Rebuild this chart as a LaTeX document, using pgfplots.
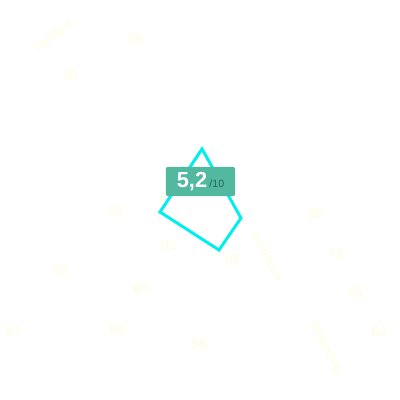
\documentclass[border=0pt]{standalone}
\usepackage{fontspec}
\setmainfont{Liberation Sans}
\usepackage{pgfplots}
\pgfplotsset{compat=1.18}
\definecolor{faint}{RGB}{255,253,222}
\definecolor{lineCyan}{RGB}{0,238,238}
\definecolor{badge}{RGB}{82,184,160}
\definecolor{badgeText}{RGB}{40,100,88}

\begin{document}
\begin{tikzpicture}
  \begin{axis}[
      width=10cm, height=10cm,
      scale only axis,
      hide axis,
      xmin=0, xmax=400,
      ymin=0, ymax=400,
      y dir=reverse,
      clip=false,
    ]
    \path (rel axis cs:0,0) rectangle (rel axis cs:1,1);

    % faint background labels
    \begin{scope}[every node/.style={text=faint, font=\fontsize{10}{12}\selectfont}]
      \node[rotate=35, font=\fontsize{8}{9}\selectfont] at (axis cs:52,36) {Voordeel};
      \node at (axis cs:135,40) {20};
      \node at (axis cs:70,75) {20};
      \node at (axis cs:116,212) {92};
      \node at (axis cs:169,245) {91};
      \node at (axis cs:60,271) {88};
      \node at (axis cs:140,289) {90};
      \node at (axis cs:13,332) {87};
      \node at (axis cs:117,330) {89};
      \node at (axis cs:199,345) {58};
      \node at (axis cs:233,260) {81};
      \node at (axis cs:316,214) {80};
      \node at (axis cs:336,254) {79};
      \node at (axis cs:356,292) {61};
      \node at (axis cs:379,332) {62};
      \node[rotate=55, font=\fontsize{8}{9}\selectfont] at (axis cs:172,186) {Kwaliteit};
      \node[rotate=-62, font=\fontsize{8}{9}\selectfont] at (axis cs:268,257) {Kosten/uur};
      \node[rotate=-62, font=\fontsize{8}{9}\selectfont] at (axis cs:326,348) {Kosten/dag};
    \end{scope}

    % score polygon
    \addplot[lineCyan, line width=2.1pt, line join=miter, mark=none]
      coordinates {(202,149) (241,218) (219,250) (160,212) (202,149)} -- cycle;

    % score badge
    \node[fill=badge, rounded corners=1.5pt, minimum width=1.73cm,
          minimum height=0.73cm, inner sep=0pt] at (axis cs:200.5,181.5) {%
      \textcolor{white}{\fontsize{15.5}{16}\selectfont\bfseries 5,2}%
      \,\textcolor{badgeText}{\fontsize{7.5}{8}\selectfont /10}};
  \end{axis}
\end{tikzpicture}
\end{document}
